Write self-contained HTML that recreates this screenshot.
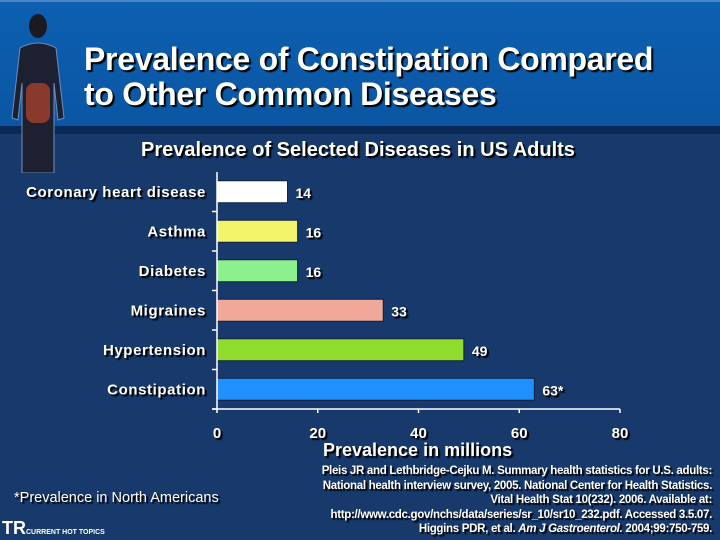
<!DOCTYPE html>
<html><head><meta charset="utf-8"><style>
body{margin:0;width:720px;height:540px;overflow:hidden;background:#17396b;font-family:"Liberation Sans",sans-serif}
.t{position:absolute;color:#fff;font-weight:bold;text-shadow:2px 2px 1px #000}
</style></head><body>
<div style="position:absolute;left:0;top:0;width:720px;height:128px;background:linear-gradient(#0d5fb0,#0a56a3);border-top:2px solid #4a86c8"></div>
<div style="position:absolute;left:0;top:126px;width:720px;height:8px;background:#0a2a55"></div>
<svg style="position:absolute;left:8px;top:8px" width="60" height="165" viewBox="0 0 60 165">
<ellipse cx="30" cy="18" rx="9" ry="12" fill="#1a1a22"/>
<path d="M12 40 Q30 30 48 40 L56 110 L50 112 L46 75 L46 165 L14 165 L14 75 L10 112 L4 110 Z" fill="#1d2030" stroke="#6d8fc0" stroke-width="1"/>
<rect x="18" y="75" width="24" height="40" rx="8" fill="#8a3a2c"/>
</svg>
<div class="t" style="left:84px;top:42px;font-size:32px;line-height:35px;letter-spacing:-0.3px">Prevalence of Constipation Compared<br>to Other Common Diseases</div>
<div class="t" style="left:0;width:716px;text-align:center;top:139px;font-size:20px">Prevalence of Selected Diseases in US Adults</div>
<svg id="c" style="position:absolute;left:0;top:0" width="720" height="540"></svg>
<div class="t" style="left:323px;top:440px;font-size:18px">Prevalence in millions</div>
<div class="t" style="left:14px;top:490px;font-size:14.5px;font-weight:normal">*Prevalence in North Americans</div>
<div class="t" style="right:8px;top:464px;font-size:11.5px;line-height:14.5px;text-align:right;letter-spacing:-0.3px">Pleis JR and Lethbridge-Cejku M. Summary health statistics for U.S. adults:<br>National health interview survey, 2005. National Center for Health Statistics.<br>Vital Health Stat 10(232). 2006. Available at:<br>http://www.cdc.gov/nchs/data/series/sr_10/sr10_232.pdf. Accessed 3.5.07.<br>Higgins PDR, et al. <i>Am J Gastroenterol.</i> 2004;99:750-759.</div>
<div class="t" style="left:2px;top:518px;font-size:18px;text-shadow:none">TR<span style="font-size:7px">CURRENT HOT TOPICS</span></div>
<script>
const categories=["Coronary heart disease","Asthma","Diabetes","Migraines","Hypertension","Constipation"];
const values=[14,16,16,33,49,63];
const valueLabels=["14","16","16","33","49","63*"];
const colors=["#ffffff","#f4f46a","#8ef08c","#f0a898","#8fdc2c","#2090ff"];
const ticks=[0,20,40,60,80];
const svg=document.getElementById('c');const NS='http://www.w3.org/2000/svg';
const x0=217,x1=620,yTop=172,yBot=409,band=(yBot-yTop)/categories.length;
const xs=v=>x0+v/80*(x1-x0);
function mk(t,a){const e=document.createElementNS(NS,t);for(const k in a)e.setAttribute(k,a[k]);svg.appendChild(e);return e;}
categories.forEach((c,i)=>{
 const cy=yTop+band*(i+0.5);
 const r=mk('rect',{x:x0,y:cy-11,width:xs(values[i])-x0,height:22,fill:colors[i],stroke:'#102040','stroke-width':1});
 
 
 const l=mk('text',{x:206,y:cy+5,'text-anchor':'end',fill:'#fff','font-size':15,'font-weight':'bold','letter-spacing':0.6,style:'text-shadow:2px 2px 1px #000'});l.textContent=c;
 
 
 const v=mk('text',{x:xs(values[i])+8,y:cy+6,fill:'#fff','font-size':14,'font-weight':'bold',style:'text-shadow:2px 2px 1px #000'});v.textContent=valueLabels[i];
 
 
 const tk=mk('line',{x1:x0-5,x2:x0,y1:yTop+band*(i+1),y2:yTop+band*(i+1),stroke:'#fff','stroke-width':1.5});
 
 
});
const ya=mk('line',{x1:x0,x2:x0,y1:yTop,y2:yBot,stroke:'#fff','stroke-width':1.5});


const xa=mk('line',{x1:x0-5,x2:x1,y1:yBot,y2:yBot,stroke:'#fff','stroke-width':1.5});


ticks.forEach(t=>{
 const l=mk('line',{x1:xs(t),x2:xs(t),y1:yBot,y2:yBot+4,stroke:'#fff','stroke-width':1.5});
 
 
 const tx=mk('text',{x:xs(t),y:438,'text-anchor':'middle',fill:'#fff','font-size':15,'font-weight':'bold',style:'text-shadow:2px 2px 1px #000'});tx.textContent=t;
 
 
});
</script>
</body></html>
